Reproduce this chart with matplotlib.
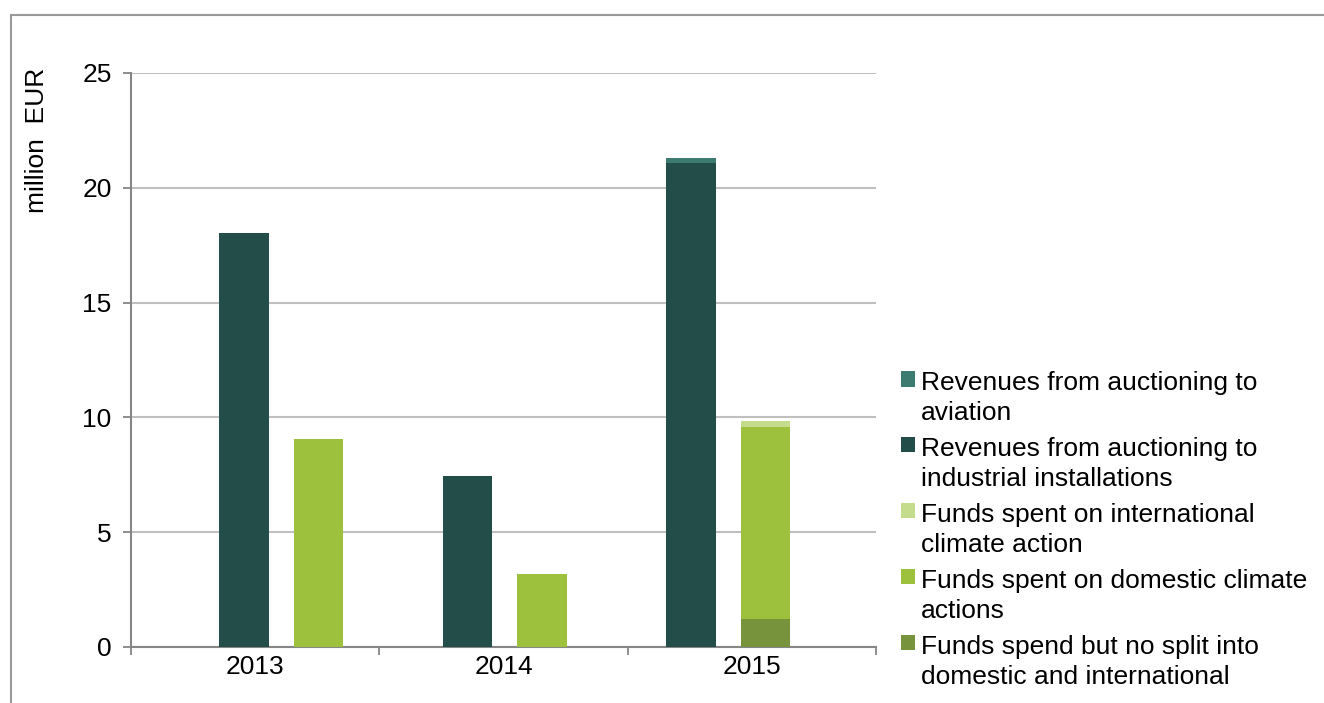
import numpy as np
import matplotlib
matplotlib.use('Agg')
import matplotlib.pyplot as plt
from matplotlib.patches import Rectangle, Patch

# === 数据 ===
years = ['2013', '2014', '2015']
aviation = [0.0, 0.0, 0.18]
industrial = [18.05, 7.45, 21.1]
international = [0.0, 0.0, 0.25]
domestic = [9.05, 3.2, 8.4]
no_split = [0.0, 0.0, 1.2]

labels = [
    'Revenues from auctioning to\naviation',
    'Revenues from auctioning to\nindustrial installations',
    'Funds spent on international\nclimate action',
    'Funds spent on domestic climate\nactions',
    'Funds spend but no split into\ndomestic and international',
]
colors = ['#3D7A70', '#234D49', '#C4DC8C', '#9DC13D', '#77933C']

plt.rcParams['font.family'] = ['Liberation Sans', 'DejaVu Sans']
plt.rcParams['font.size'] = 19

fig = plt.figure(figsize=(13.24, 7.03), dpi=100)
ax = fig.add_axes([131 / 1324, 1 - 647 / 703, 745 / 1324, 574 / 703])

x = np.arange(len(years))
pos = x * 0.9
w = 0.2
dark_x = pos - 0.045
green_x = pos + 0.255

ind = np.array(industrial)
ax.bar(dark_x, ind, w, color=colors[1], zorder=3)
ax.bar(dark_x, aviation, w, bottom=ind, color=colors[0], zorder=3)

ns = np.array(no_split)
dom = np.array(domestic)
ax.bar(green_x, ns, w, color=colors[4], zorder=3)
ax.bar(green_x, dom, w, bottom=ns, color=colors[3], zorder=3)
ax.bar(green_x, international, w, bottom=ns + dom, color=colors[2], zorder=3)

# 坐标轴
ax.set_xlim(-0.5, 2.5)
ax.set_ylim(0, 25)
ax.set_yticks([0, 5, 10, 15, 20, 25])
ax.set_xticks(x)
ax.set_xticklabels(years)
ax.set_xticks([-0.5, 0.5, 1.5, 2.5], minor=True)
ax.tick_params(axis='x', which='major', length=0, pad=6)
ax.tick_params(axis='x', which='minor', length=6, width=1.3, color='#868686')
ax.tick_params(axis='y', length=6, width=1.3, color='#868686', pad=8)

for s in ['top', 'right']:
    ax.spines[s].set_visible(False)
for s in ['left', 'bottom']:
    ax.spines[s].set_color('#868686')
    ax.spines[s].set_linewidth(1.5)

ax.yaxis.grid(True, color='#BFBFBF', linewidth=1.5, zorder=0)
ax.set_axisbelow(True)

fig.text(37 / 1324, 1 - 140 / 703, 'million  EUR', rotation=90,
         ha='center', va='center', fontsize=19)

# 图例
handles = [Patch(facecolor=c, edgecolor='none') for c in colors]
leg = fig.legend(handles, labels, loc='upper left',
                 bbox_to_anchor=(901 / 1324, 1 - 371 / 703),
                 frameon=False, borderpad=0, borderaxespad=0,
                 handlelength=0.53, handleheight=0.53, handletextpad=0.23,
                 labelspacing=0.44, fontsize=19)
for t in leg.get_texts():
    t.set_linespacing(1.33)
for col in leg._legend_handle_box.get_children():
    for hp in col.get_children():
        hp.align = 'top'

# 外框
fig.patches.append(Rectangle((11 / 1324, -0.1), 1.2, 1 - 15 / 703 + 0.1,
                             transform=fig.transFigure, fill=False,
                             edgecolor='#9A9A9A', linewidth=1.5))

plt.savefig('out.png', dpi=100)
plt.close()
